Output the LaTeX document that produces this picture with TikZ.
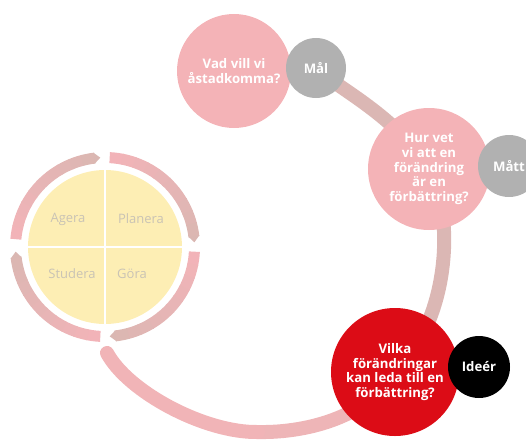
\documentclass[tikz,border=0pt]{standalone}
\usepackage{fontspec}
\setmainfont{Open Sans}
\definecolor{pinkC}{HTML}{F4B3B7}
\definecolor{greyC}{HTML}{B1B1B1}
\definecolor{redC}{HTML}{DC0C16}
\definecolor{bandA}{HTML}{F1B4B7}
\definecolor{bandB}{HTML}{DBB7B4}
\definecolor{ringP}{HTML}{F2B3B8}
\definecolor{ringG}{HTML}{DAB7B2}
\definecolor{yel}{HTML}{FDEEB4}
\definecolor{txtG}{HTML}{C9C3B4}
\begin{document}
\begin{tikzpicture}[x=1pt,y=-1pt,
  band/.style={line width=14pt, line cap=round},
  bubble/.style={circle, inner sep=0pt, text=white, align=center,
    font=\bfseries\fontsize{13.2}{14.8}\selectfont},
  tag/.style={bubble, minimum size=60pt, fill=greyC},
  quad/.style={text=txtG, font=\fontsize{13}{15}\selectfont},
  divider/.style={white, line width=2.5pt}]
\useasboundingbox (0,0) rectangle (526,444);
\clip (0,0) rectangle (526,444);

% PDSA core
\node[circle, fill=yel, minimum size=154pt, inner sep=0pt] (pdsa) at (105,247) {};
\draw[divider] (pdsa.north) -- (pdsa.south);
\draw[divider] (pdsa.west) -- (pdsa.east);
\node[quad] (agera) at (68,219) {Agera};
\node[quad] (planera) at (141,219) {Planera};
\node[quad] (studera) at (72,274) {Studera};
\node[quad] (gora) at (132,274) {Göra};

% PDSA ring arrows
\foreach \s/\e in {185/267,273/357,363/447,453/537} {
  \pgfmathsetmacro{\segB}{\e-4}
  \foreach \i in {0,...,9} {
    \pgfmathsetmacro{\pa}{\s+(\segB-\s)*\i/10}
    \pgfmathsetmacro{\pb}{\s+(\segB-\s)*(\i+1)/10+0.4}
    \pgfmathtruncatemacro{\segM}{100-10*\i}
    \fill[ringP!\segM!ringG] plot[domain=\pa:\pb,samples=4] ({105+95*cos(\x)},{247+95*sin(\x)})
      -- plot[domain=\pb:\pa,samples=4] ({105+84*cos(\x)},{247+84*sin(\x)}) -- cycle;
  }
  \fill[ringG] ({105+95*cos(\segB)},{247+95*sin(\segB)}) -- ({105+89.5*cos(\e)},{247+89.5*sin(\e)})
     -- ({105+84*cos(\segB)},{247+84*sin(\segB)}) -- cycle;
}

% big loop
\coordinate (bandend) at (107,353);
\coordinate (bottom) at (258,432);
\node[circle, inner sep=0pt, minimum size=1pt] (malc) at (316,68) {};
\node[circle, inner sep=0pt, minimum size=1pt] (hurc) at (429,169) {};
\node[circle, inner sep=0pt, minimum size=1pt] (redc) at (395,372) {};
\draw[band, bandB] (malc.center) .. controls (340,90) and (395,115) .. (hurc.center);
\draw[band, bandB] (hurc.center) .. controls (455,215) and (450,320) .. (redc.center);
\draw[band, bandA!85!bandB] (redc.center) .. controls (370,415) and (310,433) .. (bottom);
\draw[band, bandA] (bottom) .. controls (205,433) and (128,392) .. (bandend);

% question bubbles
\node[bubble, fill=pinkC, minimum size=114pt] (vad) at (234,71) {Vad vill vi\\åstadkomma?};
\node[tag] (mal) at (316,68) {Mål};
\node[bubble, fill=pinkC, minimum size=122pt] (hur) at (429,169) {Hur vet\\vi att en\\förändring\\är en\\förbättring?};
\node[tag, minimum size=62pt] (matt) at (509,166) {Mått};
\node[bubble, fill=redC, minimum size=128pt] (vilka) at (395,372) {Vilka\\förändringar\\kan leda till en\\förbättring?};
\node[tag, fill=black, minimum size=62pt] (ideer) at (479,367) {Ideér};
\end{tikzpicture}
\end{document}
